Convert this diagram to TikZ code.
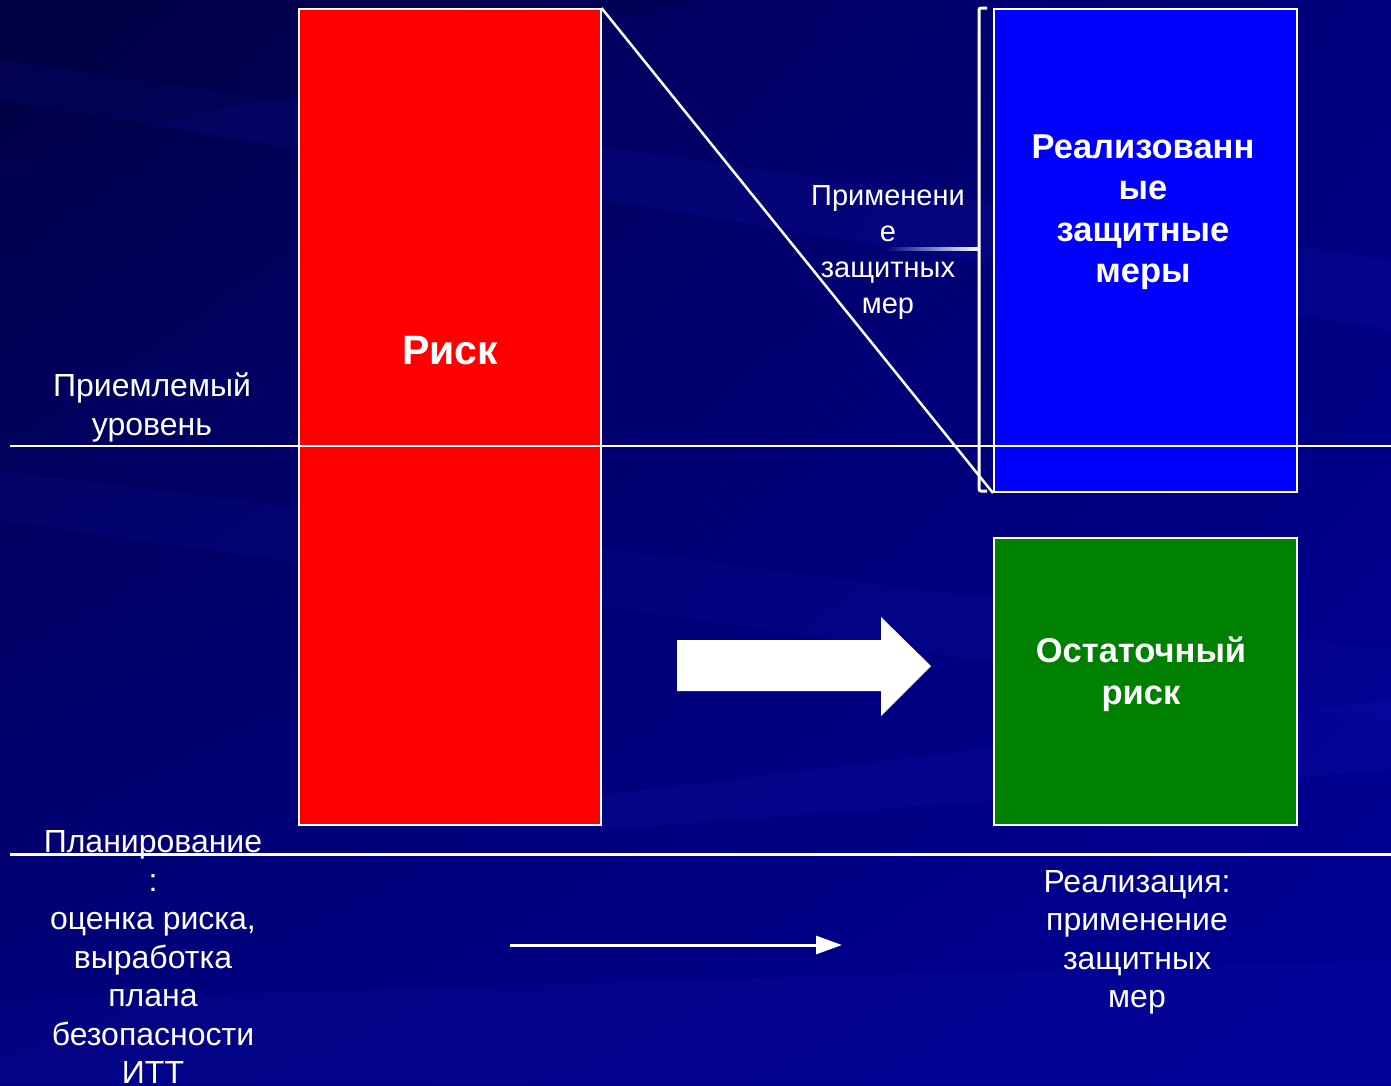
\documentclass[tikz,border=0pt]{standalone}
\usepackage{fontspec}
\setmainfont{Liberation Sans}
\usetikzlibrary{arrows.meta,shadings}
\definecolor{bgdark}{RGB}{0,0,70}
\definecolor{bgmid}{RGB}{0,0,125}
\definecolor{bglight}{RGB}{0,0,150}
\definecolor{streak}{RGB}{40,40,220}
\definecolor{boxblue}{RGB}{0,0,255}
\definecolor{boxgreen}{RGB}{0,128,0}
\definecolor{boxred}{RGB}{255,0,0}
\begin{document}
\begin{tikzpicture}[x=1pt,y=-1pt,
  regtext/.style={text=white, align=center, inner sep=0pt, font=\fontsize{32}{38.5}\selectfont},
  smalltext/.style={text=white, align=center, inner sep=0pt, font=\fontsize{29}{35.8}\selectfont},
  boldtext/.style={text=white, align=center, inner sep=0pt, font=\bfseries\fontsize{34.5}{41.5}\selectfont},
  block/.style={draw=white, anchor=north west, inner sep=0pt},
  wline/.style={draw=white, line width=2.5pt}
]
\useasboundingbox (0,0) rectangle (1391,1085);
% background
\shade[upper left=bgdark, upper right=bgmid, lower left=bgmid, lower right=bglight] (0,0) rectangle (1391,1085);
\fill[streak, opacity=0.10] (0,60) -- (1391,260) -- (1391,330) -- (0,100) -- cycle;
\fill[streak, opacity=0.08] (0,470) -- (1391,650) -- (1391,720) -- (0,520) -- cycle;
\fill[streak, opacity=0.10] (600,795) -- (1391,700) -- (1391,770) -- (600,830) -- cycle;
\fill[streak, opacity=0.08] (0,1000) -- (1391,960) -- (1391,1085) -- (0,1085) -- cycle;
\fill[bgdark, opacity=0.35] (0,0) -- (700,0) -- (0,160) -- cycle;

% boxes
\node[block, fill=boxred, line width=1.5pt, minimum width=302pt, minimum height=816pt] (risk) at (298,8) {};
\node[block, fill=boxblue, line width=2pt, minimum width=303pt, minimum height=483pt] (measures) at (993,8) {};
\node[block, fill=boxgreen, line width=2pt, minimum width=303pt, minimum height=287pt] (residual) at (993,537) {};

% horizontal lines
\coordinate (accL) at (10,446);
\coordinate (accR) at (1391,446);
\draw[white, line width=2.5pt] (accL) -- (accR);
\coordinate (botL) at (10,854);
\coordinate (botR) at (1391,854);
\draw[white, line width=3pt] (botL) -- (botR);

% bracket
\coordinate (brT) at (979,8);
\coordinate (brB) at (979,491);
\coordinate (brM) at (979,249);
\draw[wline, line width=3pt, line cap=butt, rounded corners=2pt] ([xshift=8pt]brT) -- (brT) -- (brB) -- ([xshift=8pt]brB);
\shade[left color=bgmid, right color=white] (885,247.8) rectangle (979,250.5);
% diagonal
\draw[wline] (risk.north east) -- (measures.south west);

% big arrow
\fill[white] (677,640) -- (881,640) -- (881,617) -- (931,666) -- (881,716) -- (881,691) -- (677,691) -- cycle;

% small arrow
\coordinate (saL) at (510,945);
\coordinate (saR) at (842,945);
\draw[white, line width=3pt, -{Triangle[length=26pt,width=18pt]}] (saL) -- (saR);

% texts
\node[text=white, inner sep=0pt, font=\bfseries\fontsize{41}{49}\selectfont] (risktxt) at (450,351) {Риск};
\node[boldtext] (meastxt) at (1143,212) {Реализованн\\ые\\защитные\\меры};
\node[boldtext] (restxt) at (1141,674) {Остаточный\\риск};
\node[smalltext] (applytxt) at (888,252.5) {Применени\\е\\защитных\\мер};
\node[regtext] (acctxt) at (152,407.5) {Приемлемый\\уровень};
\node[regtext] (plantxt) at (153,957) {Планирование\\:\\оценка риска,\\выработка\\плана\\безопасности\\ИТТ};
\node[regtext] (impltxt) at (1137,942.5) {Реализация:\\применение\\защитных\\мер};
\end{tikzpicture}
\end{document}
